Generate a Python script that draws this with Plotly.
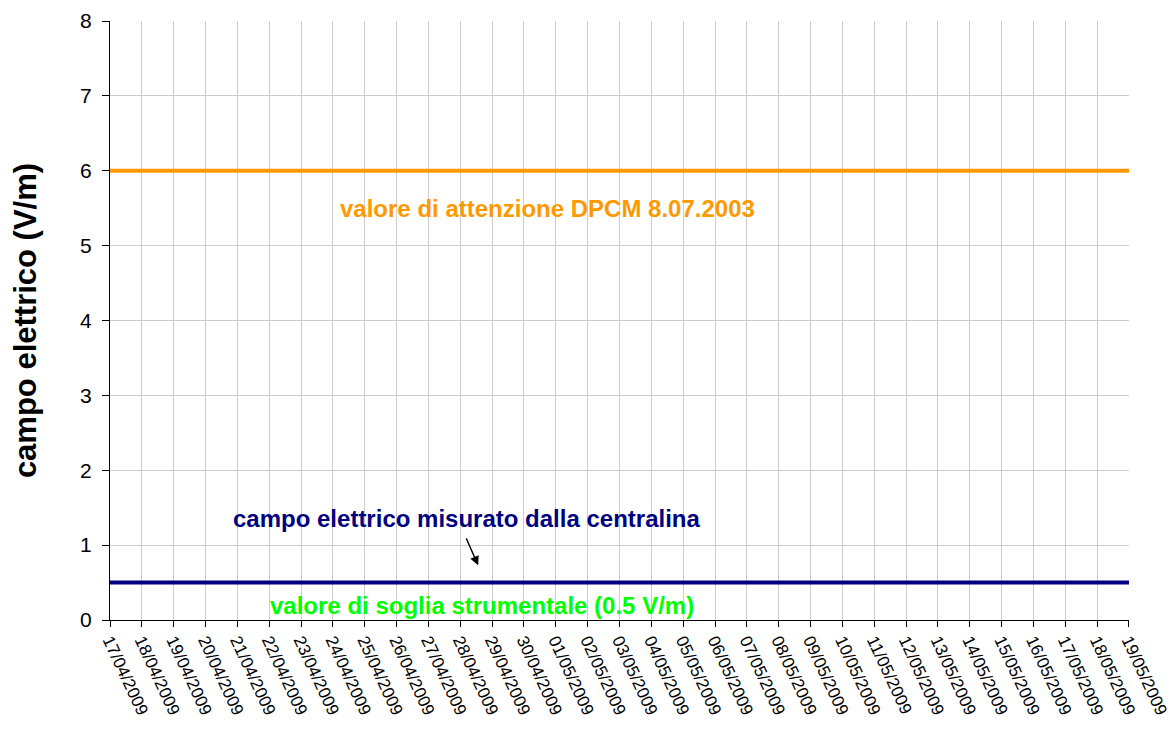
import plotly.graph_objects as go
import pandas as pd

dates = pd.date_range("2009-04-17", "2009-05-19", freq="D")
date_labels = [d.strftime("%d/%m/%Y") for d in dates]
measured = [0.5] * len(dates)
attention = [6.0] * len(dates)

fig = go.Figure()
fig.add_trace(go.Scatter(x=dates, y=attention, mode="lines",
                         line=dict(color="#FF9900", width=4), showlegend=False))
fig.add_trace(go.Scatter(x=dates, y=measured, mode="lines",
                         line=dict(color="#000080", width=4), showlegend=False))

font_fam = "Liberation Sans, Arial, sans-serif"
fig.add_annotation(x="2009-04-30 18:00", y=5.49, text="<b>valore di attenzione DPCM 8.07.2003</b>",
                   showarrow=False, font=dict(family=font_fam, size=24, color="#FF9900"))
fig.add_annotation(x="2009-04-28 05:00", y=1.36, text="<b>campo elettrico misurato dalla centralina</b>",
                   showarrow=False, font=dict(family=font_fam, size=24, color="#000080"))
fig.add_annotation(x="2009-04-28 16:00", y=0.2, text="<b>valore di soglia strumentale (0.5 V/m)</b>",
                   showarrow=False, font=dict(family=font_fam, size=24, color="#00FF00"))
fig.add_annotation(x="2009-04-28 13:30", y=0.73, ax="2009-04-28 04:00", ay=1.11,
                   axref="x", ayref="y", text="", showarrow=True,
                   arrowhead=2, arrowsize=1.3, arrowwidth=1.4, arrowcolor="black")

fig.update_layout(
    width=1160, height=715,
    margin=dict(l=102, r=39, t=13, b=103, autoexpand=False),
    plot_bgcolor="white", paper_bgcolor="white",
    font=dict(family=font_fam, color="black"),
)
fig.update_xaxes(
    type="date", range=["2009-04-17 00:00", "2009-05-19 00:01"],
    tickvals=list(dates), ticktext=date_labels,
    tickangle=65, tickfont=dict(size=17), ticklabelstandoff=-3,
    ticklabeloverflow="allow",
    ticks="outside", ticklen=6, tickcolor="black",
    showgrid=True, gridcolor="#cccccc", gridwidth=1,
    showline=True, linecolor="black", linewidth=1, zeroline=False,
    automargin=False,
)
fig.update_yaxes(
    range=[0, 8], dtick=1,
    tickfont=dict(size=21), ticklabelstandoff=6,
    ticks="outside", ticklen=7, tickcolor="black",
    showgrid=True, gridcolor="#cccccc", gridwidth=1,
    showline=True, linecolor="black", linewidth=1, zeroline=False,
    automargin=False,
    title=dict(text="<b>campo elettrico (V/m)</b>", font=dict(size=31), standoff=34),
)

fig.write_html("out.html")
